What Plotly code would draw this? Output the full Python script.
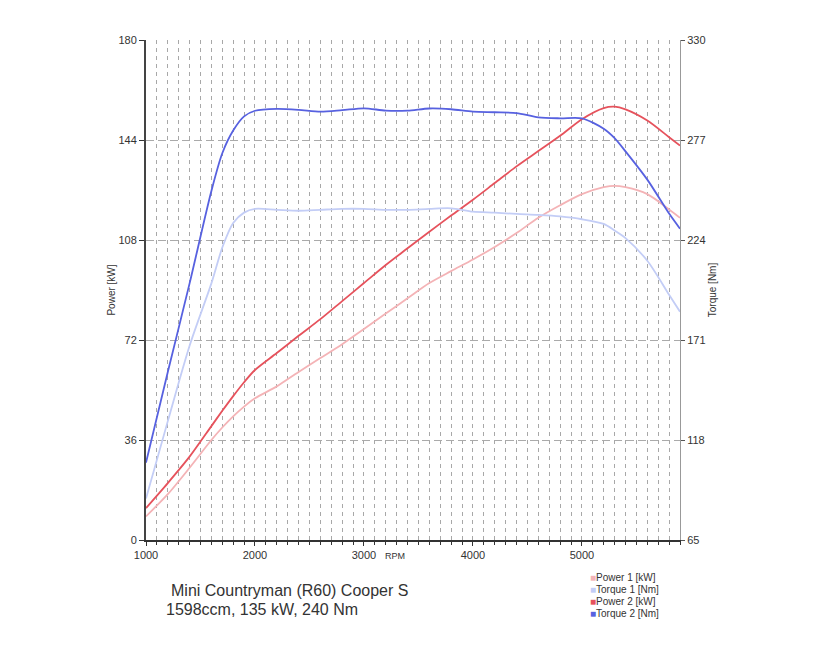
import plotly.graph_objects as go

rpm = [1000, 1200, 1400, 1600, 1700, 1800, 1900, 2000, 2200, 2400, 2600, 2800, 3000, 3200, 3400,
       3600, 3800, 4000, 4200, 4400, 4600, 4800, 5000, 5200, 5300, 5400, 5600, 5800, 5900]

power1 = [8.5, 16.5, 26, 36, 40.5, 44.5, 48, 51, 55.3, 60.5, 65.5, 70.5, 76, 81.5, 87,
          92.5, 96.8, 101, 105.5, 110.5, 116, 120.5, 124.5, 127, 127.5, 127, 124.5, 119, 116]
torque1 = [87, 128, 168, 201, 220, 233, 238.5, 240.5, 240, 239.5, 240, 240.5, 240.5, 240, 240,
           240.5, 240.8, 239, 238.5, 237.8, 237.3, 236.5, 235, 232.5, 229, 225, 213, 195, 186]
power2 = [11.5, 20.5, 30, 41, 46.5, 51.8, 56.8, 61.2, 67.3, 73.5, 79.5, 86, 92.5, 99, 105,
          111, 116.8, 122.5, 128.5, 134.5, 140, 145.5, 151.5, 155.5, 156, 155, 151, 145, 142]
torque2 = [106, 154, 201, 250, 270, 282, 289.5, 292.5, 293.5, 293, 292, 292.8, 293.8, 292.6, 292.6,
           293.7, 293.3, 292, 291.7, 291.3, 289, 288.5, 288.5, 283, 278, 271, 256, 238, 230]

series_names = ["Power 1 [kW]", "Torque 1 [Nm]", "Power 2 [kW]", "Torque 2 [Nm]"]
series_colors = ["#f4b3b6", "#c3cdf6", "#e6525c", "#5761e0"]

power_ticks = [0, 36, 72, 108, 144, 180]
torque_ticks = [65, 118, 171, 224, 277, 330]
rpm_ticks = [1000, 2000, 3000, 4000, 5000]

FONT = "Liberation Sans, Arial, sans-serif"
fig = go.Figure()

series = [(power1, "y"), (torque1, "y2"), (power2, "y"), (torque2, "y2")]
for (vals, ax), nm, col in zip(series, series_names, series_colors):
    fig.add_trace(go.Scatter(x=rpm, y=vals, mode="lines", yaxis=ax, name=nm,
                             line=dict(color=col, width=1.8, shape="spline", smoothing=0.8)))

fig.update_layout(
    width=820, height=650,
    margin=dict(l=146, r=140, t=40, b=110),
    paper_bgcolor="white", plot_bgcolor="white",
    showlegend=False,
    font=dict(family=FONT, size=11, color="#333"),
    xaxis=dict(
        range=[1000, 5900], tickvals=rpm_ticks, ticktext=[str(v) for v in rpm_ticks],
        showgrid=True, gridcolor="#a8a8a8", griddash="4px,4px", gridwidth=1,
        minor=dict(dtick=100, showgrid=True, gridcolor="#a8a8a8", griddash="4px,4px", gridwidth=1,
                   ticks="outside", ticklen=3, tickcolor="#333"),
        ticks="outside", ticklen=4, tickcolor="#333",
        showline=True, linecolor="#333", linewidth=2, zeroline=False,
        tickfont=dict(size=11, color="#333"),
    ),
    yaxis=dict(
        range=[0, 180], tickvals=power_ticks, ticktext=[str(v) for v in power_ticks],
        showgrid=True, gridcolor="#aaaaaa", griddash="8px,4px", gridwidth=1,
        ticks="outside", ticklen=5, tickcolor="#333",
        showline=True, linecolor="#444", linewidth=2, zeroline=False,
        title=dict(text="Power [kW]", font=dict(size=10, color="#333"), standoff=1),
        tickfont=dict(size=11, color="#333"),
    ),
    yaxis2=dict(
        range=[65, 330], tickvals=torque_ticks, ticktext=[str(v) for v in torque_ticks],
        overlaying="y", side="right", showgrid=False, zeroline=False,
        ticks="outside", ticklen=4, tickcolor="#555",
        showline=True, linecolor="#999", linewidth=1,
        title=dict(text="Torque [Nm]", font=dict(size=10, color="#333"), standoff=4),
        tickfont=dict(size=11, color="#333"),
    ),
)

ann = []
W, H = 820, 650
def px(xp, yp):
    return (xp - 146) / (W - 146 - 140), (H - 110 - yp) / (H - 40 - 110)

x0, y0 = px(395, 556)
ann.append(dict(text="RPM", x=x0, y=y0, xref="paper", yref="paper", showarrow=False,
                font=dict(size=9, color="#333"), xanchor="center", yanchor="middle"))
x0, y0 = px(169, 590)
ann.append(dict(text="Mini Countryman (R60) Cooper S", x=x0, y=y0, xref="paper", yref="paper",
                showarrow=False, font=dict(size=16, color="#333"), xanchor="left", yanchor="middle"))
x0, y0 = px(164, 609)
ann.append(dict(text="1598ccm, 135 kW, 240 Nm", x=x0, y=y0, xref="paper", yref="paper",
                showarrow=False, font=dict(size=16, color="#333"), xanchor="left", yanchor="middle"))
for i, (nm, col) in enumerate(zip(series_names, series_colors)):
    x0, y0 = px(588, 577 + 12 * i)
    ann.append(dict(text=f"<span style='color:{col}'>■</span>{nm}", x=x0, y=y0, xref="paper", yref="paper",
                    showarrow=False, font=dict(size=10, color="#333"), xanchor="left", yanchor="middle"))
fig.update_layout(annotations=ann)

fig.write_html("out.html")
